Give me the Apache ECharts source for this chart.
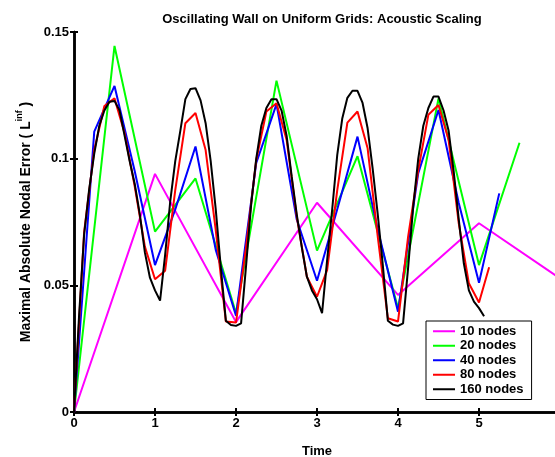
<!DOCTYPE html>
<html><head><meta charset="utf-8">
<script src="https://cdn.jsdelivr.net/npm/echarts@6/dist/echarts.min.js"></script>
<style>html,body{margin:0;padding:0;background:#fff}#c{width:555px;height:457px}</style>
</head><body><div id="c"></div>
<script>
const xTicks = [0, 1, 2, 3, 4, 5, 6];
const yTicks = ['0', '0.05', '0.1', '0.15'];
const seriesNames = ['10 nodes', '20 nodes', '40 nodes', '80 nodes', '160 nodes'];
const seriesColors = ['#ff00ff', '#00ff00', '#0000ff', '#ff0000', '#000000'];
const timeSteps = [1, 0.5, 0.25, 0.125, 0.0625];
const n10 = [0, 0.094, 0.0355, 0.0826, 0.0462, 0.0745, 0.0527];
const n20 = [0, 0.1445, 0.0712, 0.0922, 0.039, 0.1308, 0.0637, 0.101, 0.041, 0.1238, 0.058, 0.1063];
const n40 = [0, 0.1107, 0.1287, 0.095, 0.058, 0.080, 0.1048, 0.064, 0.038, 0.0983, 0.1215, 0.076,
  0.0518, 0.080, 0.1087, 0.072, 0.0396, 0.0943, 0.1192, 0.0825, 0.051, 0.0863];
const n80 = [0, 0.071, 0.1034, 0.1208, 0.1238, 0.110, 0.089, 0.0653, 0.0524, 0.0558, 0.0876, 0.114,
  0.118, 0.1034, 0.0718, 0.0357, 0.0353, 0.0653, 0.0995, 0.1186, 0.1219, 0.1074, 0.0771, 0.0534,
  0.0455, 0.056, 0.0876, 0.1142, 0.1186, 0.1041, 0.0692, 0.037, 0.0357, 0.0692, 0.0955, 0.1173,
  0.1212, 0.1074, 0.0745, 0.0508, 0.0432, 0.0571];
const n160 = [0, 0.038, 0.07, 0.088, 0.102, 0.113, 0.119, 0.1225, 0.1228, 0.119, 0.109, 0.099, 0.090, 0.078, 0.063, 0.053,
  0.048, 0.044, 0.062, 0.083, 0.099, 0.111, 0.1235, 0.1275, 0.1278, 0.123, 0.114, 0.099, 0.08, 0.057, 0.036, 0.0343,
  0.034, 0.035, 0.058, 0.082, 0.1, 0.113, 0.12, 0.1235, 0.1235, 0.119, 0.109, 0.093, 0.078, 0.065, 0.0534, 0.048,
  0.0445, 0.039, 0.06, 0.08, 0.1015, 0.116, 0.124, 0.1268, 0.1268, 0.122, 0.112, 0.096, 0.078, 0.058, 0.036, 0.0345,
  0.034, 0.035, 0.057, 0.081, 0.1, 0.113, 0.12, 0.1245, 0.1245, 0.119, 0.111, 0.095, 0.076, 0.0587, 0.048, 0.0436,
  0.041, 0.0378];
const allValues = [n10, n20, n40, n80, n160];

const FONT = '"Liberation Sans", Arial, sans-serif';
const chart = echarts.init(document.getElementById('c'), null, {renderer: 'canvas'});
const axisLine = {show: true, lineStyle: {color: '#000', width: 2.5}};
const tickStyle = {show: true, inside: true, length: 4, lineStyle: {color: '#000', width: 2}};
const labelStyle = {color: '#000', fontFamily: FONT, fontWeight: 'bold', fontSize: 13};

chart.setOption({
  animation: false,
  backgroundColor: '#fff',
  title: {
    text: 'Oscillating Wall on Uniform Grids: Acoustic Scaling',
    left: 317, top: 8, textAlign: 'center',
    textStyle: {color: '#000', fontFamily: FONT, fontWeight: 'bold', fontSize: 13}
  },
  grid: {left: 74, top: 32, width: 486, height: 380, containLabel: false, outerBoundsMode: 'none'},
  legend: {
    data: seriesNames,
    orient: 'vertical', left: 426, top: 321,
    backgroundColor: '#fff', borderColor: '#000', borderWidth: 1,
    padding: [3, 8, 3, 7], itemGap: 0, itemWidth: 22, itemHeight: 14, itemTextGap: 7,
    icon: 'path://M0,6 L22,6 L22,8 L0,8 Z',
    textStyle: {color: '#000', fontFamily: FONT, fontWeight: 'bold', fontSize: 13, lineHeight: 14.5}
  },
  xAxis: [{
    type: 'value', min: xTicks[0], max: xTicks[xTicks.length - 1], interval: 1,
    name: 'Time', nameLocation: 'middle', nameGap: 33,
    nameTextStyle: labelStyle,
    axisLine: axisLine, axisTick: tickStyle, splitLine: {show: false},
    axisLabel: Object.assign({margin: 5, showMaxLabel: false}, labelStyle)
  }, {
    type: 'value', position: 'top', min: xTicks[0], max: xTicks[xTicks.length - 1], interval: 1,
    axisLine: axisLine, axisTick: tickStyle, splitLine: {show: false}, axisLabel: {show: false}
  }],
  yAxis: [{
    type: 'value', min: 0, max: 0.15, interval: 0.05,
    name: '{a|Maximal Absolute Nodal Error ( L}{s|inf}{a| )}',
    nameLocation: 'middle', nameGap: 39, nameRotate: 90,
    nameTextStyle: {
      rich: {
        a: {color: '#000', fontFamily: FONT, fontWeight: 'bold', fontSize: 14, verticalAlign: 'bottom'},
        s: {color: '#000', fontFamily: FONT, fontWeight: 'bold', fontSize: 9, verticalAlign: 'bottom', padding: [0, 0, 9, 0]}
      }
    },
    axisLine: axisLine, axisTick: tickStyle, splitLine: {show: false},
    axisLabel: Object.assign({margin: 5, formatter: function (v) {
      const i = Math.round(v / 0.05); return yTicks[i];
    }}, labelStyle)
  }, {
    type: 'value', position: 'right', min: 0, max: 0.15, interval: 0.05,
    axisLine: axisLine, axisTick: tickStyle, splitLine: {show: false}, axisLabel: {show: false}
  }],
  series: seriesNames.map(function (name, k) {
    return {
      name: name, type: 'line', symbol: 'none', smooth: false,
      xAxisIndex: 0, yAxisIndex: 0,
      lineStyle: {color: seriesColors[k], width: 2},
      itemStyle: {color: seriesColors[k]},
      data: allValues[k].map(function (v, i) { return [i * timeSteps[k], v]; })
    };
  })
});
</script></body></html>
